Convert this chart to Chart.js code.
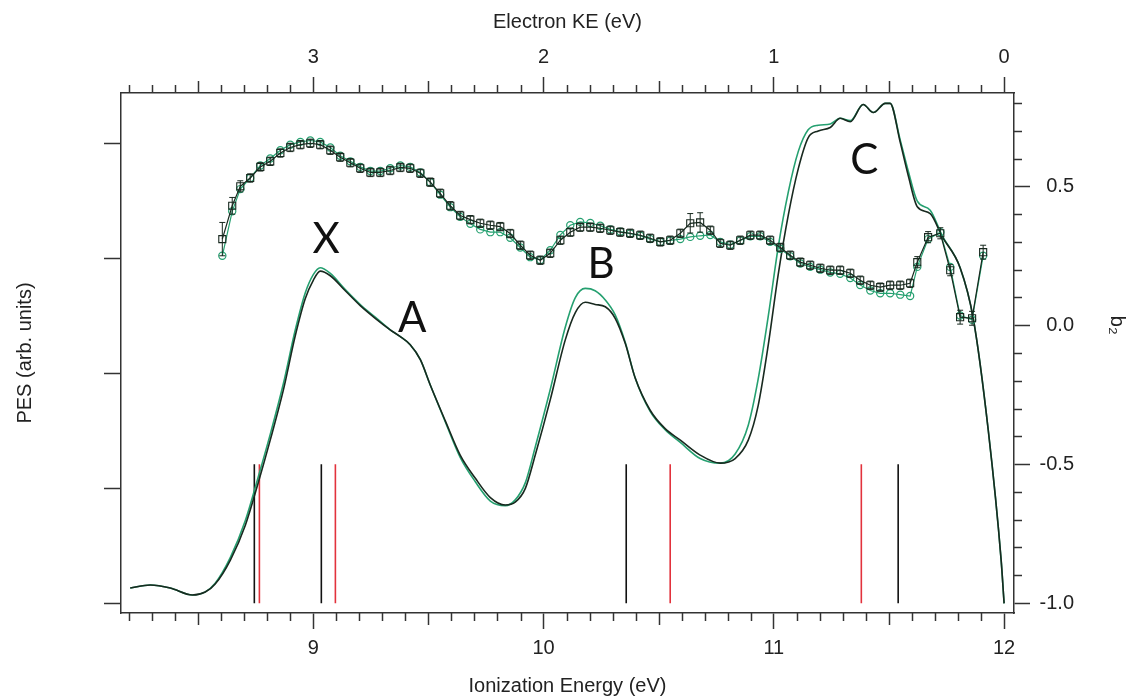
<!DOCTYPE html>
<html>
<head>
<meta charset="utf-8">
<script src="https://cdn.jsdelivr.net/npm/chart.js@4.4.1/dist/chart.umd.min.js"></script>
<style>
  html, body { margin: 0; padding: 0; background: #fff; }
</style>
</head>
<body>
<canvas id="myChart" width="1135" height="698"></canvas>
<script>
// photoelectron spectrum (left axis, arb. units)
var pesEnergy = [8.205, 8.292, 8.379, 8.475, 8.531, 8.574, 8.640, 8.705, 8.761, 8.813,
  8.870, 8.922, 8.965, 9.000, 9.030, 9.074, 9.139, 9.204, 9.269, 9.334,
  9.378, 9.421, 9.465, 9.508, 9.573, 9.638, 9.703, 9.769, 9.834, 9.877,
  9.921, 9.964, 10.029, 10.094, 10.138, 10.181, 10.224, 10.268, 10.311, 10.355,
  10.398, 10.463, 10.528, 10.594, 10.680, 10.767, 10.832, 10.889, 10.932, 10.976,
  11.019, 11.063, 11.106, 11.149, 11.193, 11.245, 11.288, 11.332, 11.388, 11.432,
  11.484, 11.505, 11.549, 11.584, 11.623, 11.679, 11.731, 11.809, 11.866, 11.931, 11.987, 12.000];
var pesBlack = [0.133, 0.159, 0.133, 0.072, 0.098, 0.168, 0.377, 0.68, 1.05, 1.42,
  1.855, 2.33, 2.65, 2.81, 2.89, 2.85, 2.72, 2.59, 2.48, 2.38,
  2.32, 2.25, 2.12, 1.90, 1.59, 1.29, 1.09, 0.92, 0.855, 0.88,
  1.00, 1.29, 1.77, 2.29, 2.53, 2.62, 2.60, 2.58, 2.48, 2.26,
  1.96, 1.68, 1.52, 1.42, 1.29, 1.22, 1.26, 1.42, 1.72, 2.25,
  2.86, 3.38, 3.78, 4.05, 4.11, 4.14, 4.22, 4.19, 4.34, 4.27,
  4.35, 4.35, 4.01, 3.72, 3.45, 3.39, 3.19, 2.92, 2.48, 1.51, 0.38, 0.0];
var pesGreen = [0.133, 0.159, 0.133, 0.072, 0.10, 0.175, 0.40, 0.72, 1.10, 1.47,
  1.91, 2.38, 2.70, 2.86, 2.92, 2.87, 2.73, 2.60, 2.49, 2.38,
  2.32, 2.25, 2.12, 1.90, 1.58, 1.27, 1.06, 0.89, 0.85, 0.90,
  1.05, 1.36, 1.86, 2.40, 2.66, 2.74, 2.72, 2.64, 2.51, 2.27,
  1.96, 1.67, 1.51, 1.40, 1.26, 1.22, 1.30, 1.55, 1.95, 2.50,
  3.10, 3.58, 3.93, 4.12, 4.16, 4.17, 4.22, 4.20, 4.34, 4.27,
  4.35, 4.35, 4.03, 3.76, 3.50, 3.42, 3.20, 2.92, 2.48, 1.51, 0.38, 0.0];

// anisotropy parameter b2 (right axis)
var betaEnergy = [8.605, 8.648, 8.683,
  8.726, 8.770, 8.813, 8.857, 8.900, 8.944, 8.987, 9.030, 9.074, 9.117,
  9.161, 9.204, 9.248, 9.291, 9.334, 9.378, 9.421, 9.465, 9.508, 9.551,
  9.595, 9.638, 9.682, 9.725, 9.769, 9.812, 9.855, 9.899, 9.942, 9.986,
  10.029, 10.073, 10.116, 10.159, 10.203, 10.246, 10.290, 10.333, 10.376, 10.420,
  10.463, 10.507, 10.550, 10.594, 10.637, 10.680, 10.724, 10.767, 10.811, 10.854,
  10.898, 10.941, 10.984, 11.028, 11.071, 11.115, 11.158, 11.202, 11.245, 11.288,
  11.332, 11.375, 11.419, 11.462, 11.505, 11.549, 11.592,
  11.623, 11.670, 11.723, 11.766, 11.809, 11.861, 11.909];
var betaBlack = [0.31, 0.43, 0.50,
  0.53, 0.57, 0.59, 0.62, 0.64, 0.65, 0.655, 0.65, 0.63, 0.605,
  0.585, 0.565, 0.55, 0.55, 0.557, 0.568, 0.565, 0.547, 0.515, 0.475,
  0.43, 0.395, 0.38, 0.367, 0.36, 0.355, 0.33, 0.288, 0.252, 0.234,
  0.259, 0.306, 0.335, 0.353, 0.353, 0.349, 0.342, 0.335, 0.331, 0.324,
  0.313, 0.30, 0.306, 0.331, 0.367, 0.37, 0.342, 0.295, 0.288, 0.306,
  0.324, 0.324, 0.306, 0.28, 0.252, 0.227, 0.216, 0.205, 0.198, 0.198,
  0.187, 0.162, 0.144, 0.137, 0.144, 0.144, 0.151,
  0.227, 0.317, 0.331, 0.198, 0.029, 0.025, 0.263];
var betaGreen = [0.25, 0.41, 0.49,
  0.53, 0.575, 0.60, 0.63, 0.65, 0.66, 0.665, 0.66, 0.64, 0.61,
  0.59, 0.57, 0.555, 0.555, 0.565, 0.575, 0.57, 0.55, 0.515, 0.47,
  0.425, 0.39, 0.365, 0.345, 0.335, 0.335, 0.315, 0.28, 0.245, 0.235,
  0.27, 0.325, 0.36, 0.372, 0.368, 0.358, 0.345, 0.337, 0.33, 0.322,
  0.31, 0.30, 0.305, 0.31, 0.318, 0.322, 0.325, 0.30, 0.29, 0.305,
  0.32, 0.32, 0.30, 0.275, 0.248, 0.222, 0.21, 0.20, 0.19, 0.185,
  0.17, 0.145, 0.125, 0.115, 0.115, 0.11, 0.105,
  0.21, 0.31, 0.335, 0.21, 0.035, 0.02, 0.25];
var betaErr = [0.06, 0.03, 0.02,
  0.015, 0.015, 0.015, 0.015, 0.015, 0.015, 0.015, 0.015, 0.015, 0.015,
  0.015, 0.015, 0.015, 0.015, 0.015, 0.015, 0.015, 0.015, 0.015, 0.015,
  0.015, 0.015, 0.015, 0.015, 0.015, 0.015, 0.015, 0.015, 0.015, 0.015,
  0.015, 0.015, 0.015, 0.015, 0.015, 0.015, 0.015, 0.015, 0.015, 0.015,
  0.015, 0.015, 0.015, 0.015, 0.035, 0.035, 0.015, 0.015, 0.015, 0.015,
  0.015, 0.015, 0.015, 0.015, 0.015, 0.015, 0.015, 0.015, 0.015, 0.015,
  0.015, 0.015, 0.015, 0.015, 0.015, 0.015, 0.015,
  0.02, 0.02, 0.02, 0.02, 0.025, 0.025, 0.025];

// calculated ionization energies (stick spectrum)
var stickBlack = [8.744, 9.035, 10.359, 11.54];
var stickRed = [8.766, 9.096, 10.55, 11.38];
var stickHeight = 1.21;

var bandLabels = ["X", "A", "B", "C"];
var bandLabelE = [9.056, 9.43, 10.25, 11.393];
var bandLabelPES = [3.17, 2.48, 2.95, 3.85];

var FONT = "'Liberation Sans', Arial, sans-serif";
var INK = "#222";
var AXIS = "#333";
var GREEN = "#25a070";
var DARK = "#18291f";

function pairs(xs, ys) {
  return xs.map(function (x, i) { return { x: x, y: ys[i] }; });
}
function sticks(xs) {
  var out = [];
  xs.forEach(function (x) {
    out.push({ x: x, y: 0 }, { x: x, y: stickHeight }, { x: x, y: null });
  });
  return out;
}

// minor tick marks, placed through the scales
var minorTicks = {
  id: "minorTicks",
  afterDraw: function (chart, args, opts) {
    var ctx = chart.ctx;
    ctx.save();
    ctx.strokeStyle = AXIS;
    ctx.lineWidth = 1.5;
    opts.axes.forEach(function (a) {
      var s = chart.scales[a.id];
      var lo = Math.min(s.min, s.max), hi = Math.max(s.min, s.max);
      var start = Math.ceil(lo / a.step - 1e-6), end = Math.floor(hi / a.step + 1e-6);
      for (var i = start; i <= end; i++) {
        var v = i * a.step;
        if (Math.abs(v / a.major - Math.round(v / a.major)) < 1e-6) continue;
        var len = (a.mid && Math.abs(v / a.mid - Math.round(v / a.mid)) < 1e-6) ? a.midLen : a.len;
        var p = Math.round(s.getPixelForValue(v)) + 0.5;
        ctx.beginPath();
        if (s.position === "bottom") { ctx.moveTo(p, s.top); ctx.lineTo(p, s.top + len); }
        else if (s.position === "top") { ctx.moveTo(p, s.bottom); ctx.lineTo(p, s.bottom - len); }
        else if (s.position === "right") { ctx.moveTo(s.left, p); ctx.lineTo(s.left + len, p); }
        else { ctx.moveTo(s.right, p); ctx.lineTo(s.right - len, p); }
        ctx.stroke();
      }
    });
    ctx.restore();
  }
};

// vertical error bars on the b2 points
var errorBars = {
  id: "errorBars",
  afterDatasetsDraw: function (chart) {
    var ctx = chart.ctx;
    chart.data.datasets.forEach(function (ds, i) {
      if (!ds.errors) return;
      var meta = chart.getDatasetMeta(i);
      var ys = chart.scales[ds.yAxisID];
      ctx.save();
      ctx.strokeStyle = ds.borderColor;
      ctx.lineWidth = 1;
      meta.data.forEach(function (pt, j) {
        var v = ds.data[j].y, e = ds.errors[j];
        var y1 = ys.getPixelForValue(v + e), y2 = ys.getPixelForValue(v - e);
        ctx.beginPath();
        ctx.moveTo(pt.x, y1); ctx.lineTo(pt.x, y2);
        ctx.moveTo(pt.x - 3, y1); ctx.lineTo(pt.x + 3, y1);
        ctx.moveTo(pt.x - 3, y2); ctx.lineTo(pt.x + 3, y2);
        ctx.stroke();
      });
      ctx.restore();
    });
  }
};

// band letters and the right-hand axis title
var labels = {
  id: "labels",
  afterDraw: function (chart) {
    var ctx = chart.ctx, xs = chart.scales.x, ys = chart.scales.y, y2 = chart.scales.y2;
    ctx.save();
    ctx.fillStyle = "#111";
    ctx.font = "42px Lato, 'Open Sans', sans-serif";
    ctx.textAlign = "center";
    ctx.textBaseline = "middle";
    bandLabels.forEach(function (t, i) {
      ctx.fillText(t, xs.getPixelForValue(bandLabelE[i]), ys.getPixelForValue(bandLabelPES[i]));
    });
    ctx.translate(chart.width - 18, y2.getPixelForValue(0));
    ctx.rotate(Math.PI / 2);
    ctx.fillStyle = INK;
    ctx.font = "20px " + FONT;
    ctx.fillText("b\u2082", 0, 0);
    ctx.restore();
  }
};

var tickFont = { family: FONT, size: 20 };
var titleFont = { family: FONT, size: 20 };

new Chart("myChart", {
  type: "line",
  data: {
    datasets: [
      { data: sticks(stickRed), borderColor: "#e2323c", borderWidth: 1.6, pointRadius: 0, yAxisID: "y", order: 6 },
      { data: sticks(stickBlack), borderColor: "#111", borderWidth: 1.6, pointRadius: 0, yAxisID: "y", order: 6 },
      { data: pairs(pesEnergy, pesGreen), borderColor: GREEN, borderWidth: 1.6, pointRadius: 0,
        cubicInterpolationMode: "monotone", yAxisID: "y", order: 5 },
      { data: pairs(pesEnergy, pesBlack), borderColor: DARK, borderWidth: 1.6, pointRadius: 0,
        cubicInterpolationMode: "monotone", yAxisID: "y", order: 4 },
      { data: pairs(betaEnergy, betaGreen), borderColor: GREEN, borderWidth: 1.2, pointStyle: "circle",
        pointRadius: 3.6, pointBorderWidth: 1.2, pointBackgroundColor: "rgba(255,255,255,0)",
        pointBorderColor: GREEN, yAxisID: "y2", order: 3 },
      { data: pairs(betaEnergy, betaBlack), errors: betaErr, borderColor: DARK, borderWidth: 1.2, pointStyle: "rect",
        pointRadius: 5, pointBorderWidth: 1.1, pointBackgroundColor: "rgba(255,255,255,0)",
        pointBorderColor: DARK, yAxisID: "y2", order: 2 }
    ]
  },
  options: {
    responsive: false,
    animation: false,
    devicePixelRatio: 1,
    layout: { padding: { left: 0, top: 0, bottom: 0, right: 61 } },
    plugins: {
      legend: { display: false },
      tooltip: { enabled: false },
      minorTicks: {
        axes: [
          { id: "x", step: 0.1, major: 1, mid: 0.5, len: 8, midLen: 12 },
          { id: "x2", step: 0.1, major: 1, mid: 0.5, len: 8, midLen: 12 },
          { id: "y2", step: 0.1, major: 0.5, len: 8 }
        ]
      }
    },
    scales: {
      x: {
        type: "linear", position: "bottom", min: 8.165, max: 12.043,
        afterFit: function (s) { s.height = 85; },
        ticks: { stepSize: 1, includeBounds: false, padding: 7, font: tickFont, color: INK, maxRotation: 0 },
        grid: { drawOnChartArea: false, tickLength: 16, tickColor: AXIS, tickWidth: 1.5 },
        border: { color: AXIS, width: 1.5 },
        title: { display: true, text: "Ionization Energy (eV)", font: titleFont, color: INK, padding: { top: 0, bottom: 0 } }
      },
      x2: {
        type: "linear", position: "top", reverse: true, min: -0.043, max: 3.835,
        afterFit: function (s) { s.height = 93; },
        ticks: { stepSize: 1, includeBounds: false, padding: 8, font: tickFont, color: INK, maxRotation: 0 },
        grid: { drawOnChartArea: false, tickLength: 16, tickColor: AXIS, tickWidth: 1.5 },
        border: { color: AXIS, width: 1.5 },
        title: { display: true, text: "Electron KE (eV)", font: titleFont, color: INK, padding: { top: 10, bottom: 0 } }
      },
      y: {
        type: "linear", position: "left", min: -0.084, max: 4.44,
        afterFit: function (s) { s.width = 121; },
        ticks: { stepSize: 1, includeBounds: false, display: false },
        grid: { drawOnChartArea: false, tickLength: 17, tickColor: AXIS, tickWidth: 1.5 },
        border: { color: AXIS, width: 1.5 },
        title: { display: true, text: "PES (arb. units)", font: titleFont, color: INK, padding: { top: 13, bottom: 0 } }
      },
      y2: {
        type: "linear", position: "right", min: -1.036, max: 0.836,
        afterFit: function (s) { s.width = 60; },
        ticks: { stepSize: 0.5, includeBounds: false, padding: 7, crossAlign: "far", font: tickFont, color: INK,
          callback: function (v) { return v.toFixed(1); } },
        grid: { drawOnChartArea: false, tickLength: 16, tickColor: AXIS, tickWidth: 1.5 },
        border: { color: AXIS, width: 1.5 }
      }
    }
  },
  plugins: [minorTicks, errorBars, labels]
});
</script>
</body>
</html>
